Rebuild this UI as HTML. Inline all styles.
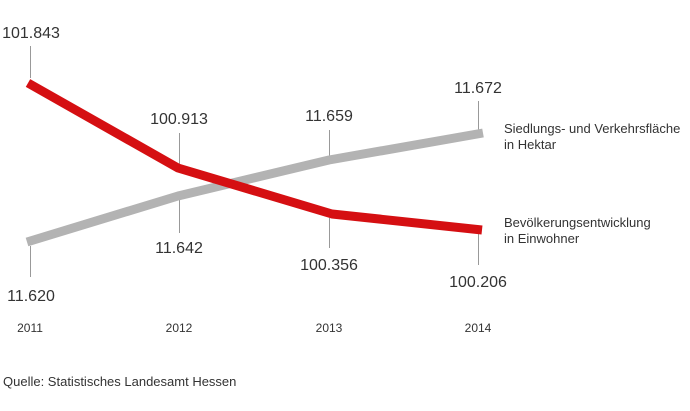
<!DOCTYPE html>
<html><head><meta charset="utf-8"><style>
html,body{margin:0;padding:0;background:#fff;width:690px;height:411px;overflow:hidden}
svg text{font-family:"Liberation Sans",sans-serif;fill:#333}
</style></head><body>
<svg width="690" height="411" viewBox="0 0 690 411" xmlns="http://www.w3.org/2000/svg">
<g stroke="#999" stroke-width="1">
<line x1="30.5" y1="46" x2="30.5" y2="78"/>
<line x1="179.5" y1="133" x2="179.5" y2="165"/>
<line x1="179.5" y1="200" x2="179.5" y2="233"/>
<line x1="30.5" y1="246" x2="30.5" y2="277"/>
<line x1="329.5" y1="130" x2="329.5" y2="160"/>
<line x1="329.5" y1="218" x2="329.5" y2="248"/>
<line x1="478.5" y1="101" x2="478.5" y2="132"/>
<line x1="478.5" y1="234" x2="478.5" y2="265"/>
</g>
<polyline points="27,242 178,196 329,160 483,133" fill="none" stroke="#b3b3b3" stroke-width="9" stroke-linejoin="round"/>
<polyline points="28,83 178,168 332,214 482,230" fill="none" stroke="#d50f12" stroke-width="9" stroke-linejoin="round"/>
<g font-size="16" text-anchor="middle">
<text x="31" y="38">101.843</text>
<text x="179" y="124">100.913</text>
<text x="179" y="253">11.642</text>
<text x="31" y="301">11.620</text>
<text x="329" y="121">11.659</text>
<text x="329" y="270">100.356</text>
<text x="478" y="93">11.672</text>
<text x="478" y="287">100.206</text>
</g>
<g font-size="12" text-anchor="middle">
<text x="30" y="332">2011</text>
<text x="179" y="332">2012</text>
<text x="329" y="332">2013</text>
<text x="478" y="332">2014</text>
</g>
<g font-size="13">
<text x="504" y="133">Siedlungs- und Verkehrsfläche</text>
<text x="504" y="149">in Hektar</text>
<text x="504" y="227">Bevölkerungsentwicklung</text>
<text x="504" y="243">in Einwohner</text>
<text x="3" y="386">Quelle: Statistisches Landesamt Hessen</text>
</g>
</svg>
</body></html>
